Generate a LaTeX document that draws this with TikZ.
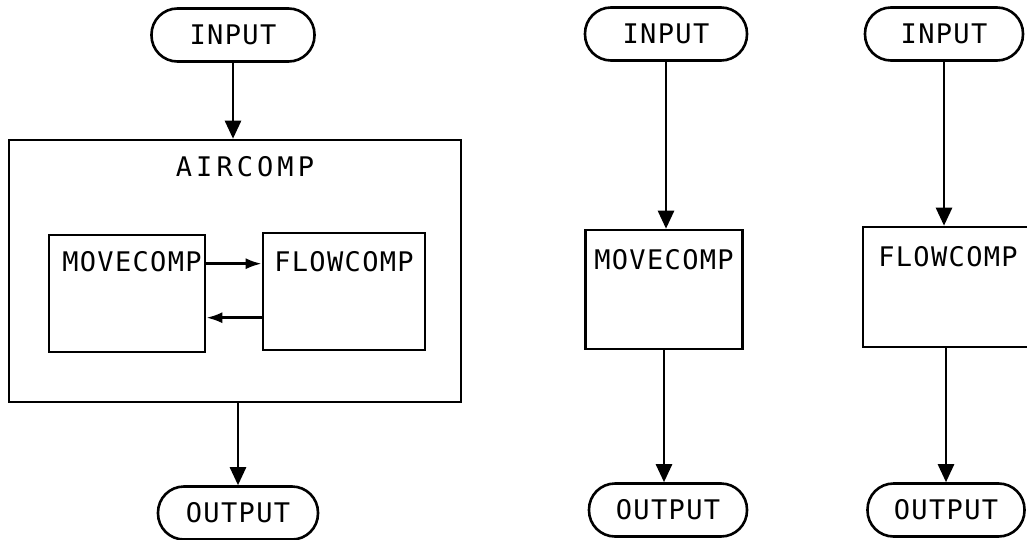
\documentclass[tikz,border=0pt]{standalone}
\usepackage{fontspec}
\usetikzlibrary{positioning,arrows.meta}
\newfontfamily\stencil[LetterSpace=5]{DejaVu Sans Mono}
\newfontfamily\stencilwide[LetterSpace=15]{DejaVu Sans Mono}

\begin{document}
\begin{tikzpicture}[x=0.5pt,y=-0.5pt,line width=1.3pt,
      font=\stencil\fontsize{13.5}{16}\selectfont,
      term/.style={draw,rounded corners=13pt,minimum height=26.5pt,inner sep=0pt},
      module/.style={draw,inner sep=0pt},
      lbl/.style={inner sep=0pt},
      arr/.style={-{Triangle[length=9pt,width=8pt]}},
      harr/.style={-{Latex[length=8pt,width=5.5pt]}}]
    \clip (0,0) rectangle (1027,540);
    \useasboundingbox (0,0) rectangle (1027,540);
    % combined model
    \node[term,minimum width=81.5pt] (in1) at (233,35) {INPUT};
    \node[module,minimum width=226pt,minimum height=131pt] (air) at (235,271) {};
    \node[lbl,font=\stencilwide\fontsize{13.5}{16}\selectfont] (airlbl) at (245,167) {AIRCOMP};
    \node[module,minimum width=78pt,minimum height=58.5pt] (mv1) at (127,293.5) {};
    \node[lbl] (mv1lbl) at (132,262) {MOVECOMP};
    \node[module,minimum width=81pt,minimum height=58.5pt] (fl1) at (344,291.5) {};
    \node[lbl] (fl1lbl) at (344,262) {FLOWCOMP};
    \node[term,minimum width=80pt] (out1) at (238,513) {OUTPUT};
    \draw[arr] (in1) -- (in1 |- air.north);
    \draw[harr] ([yshift=-15pt]mv1.north east) -- ([yshift=-15pt]mv1.north east -| fl1.west);
    \draw[harr] ([yshift=-43pt]fl1.north west) -- ([yshift=-43pt]fl1.north west -| mv1.east);
    \draw[arr] (air.south -| out1) -- (out1);
    % movecomp alone
    \node[term,minimum width=81pt] (in2) at (666,34) {INPUT};
    \node[module,minimum width=78.5pt,minimum height=59.5pt] (mv2) at (664,289.5) {};
    \node[lbl] (mv2lbl) at (664,260) {MOVECOMP};
    \node[term,minimum width=79pt] (out2) at (668,510) {OUTPUT};
    \draw[arr] (in2) -- (in2 |- mv2.north);
    \draw[arr] (mv2.south) -- (mv2.south |- out2.north);
    % flowcomp alone
    \node[term,minimum width=79pt] (in3) at (944,34) {INPUT};
    \node[module,minimum width=85pt,minimum height=60pt] (fl3) at (948,287) {};
    \node[lbl] (fl3lbl) at (948,257) {FLOWCOMP};
    \node[term,minimum width=78.5pt] (out3) at (946,510) {OUTPUT};
    \draw[arr] (in3) -- (in3 |- fl3.north);
    \draw[arr] (fl3.south -| out3) -- (out3);
  \end{tikzpicture}
\end{document}
